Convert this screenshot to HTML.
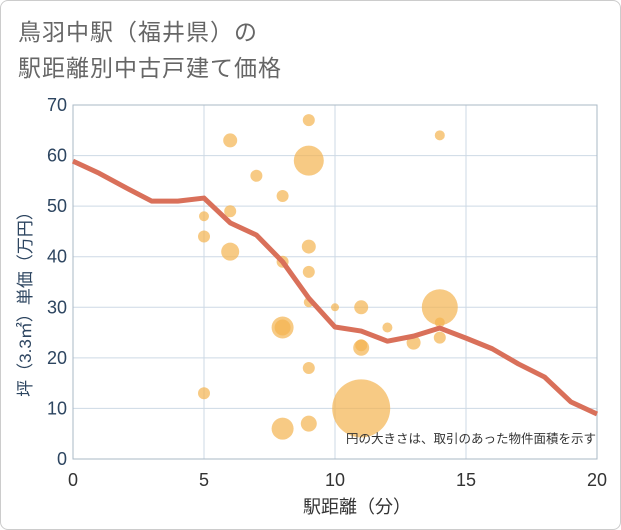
<!DOCTYPE html>
<html><head><meta charset="utf-8"><style>
body{margin:0;background:#fff;}
#wrap{position:relative;width:621px;height:530px;font-family:"Liberation Sans","Noto Sans CJK JP",sans-serif;}
#frame{position:absolute;left:0;top:0;width:619px;height:528px;border:1px solid #ccc;border-radius:8px;}
#title{position:absolute;left:18px;top:14px;font-size:23px;line-height:36px;color:#666;letter-spacing:1px;}
svg text{font-family:"Liberation Sans","Noto Sans CJK JP",sans-serif;}
</style></head><body>
<div id="wrap">
<div id="frame"></div>
<div id="title">鳥羽中駅（福井県）の<br>駅距離別中古戸建て価格</div>
<svg id="svg" width="621" height="530" style="position:absolute;left:0;top:0"></svg>
</div>
<script>
const xTicks=[0,5,10,15,20];
const yTicks=[0,10,20,30,40,50,60,70];
const lineX=[0,1,2,3,4,5,6,7,8,9,10,11,12,13,14,15,16,17,18,19,20];
const lineY=[58.9,56.5,53.7,51,51,51.6,46.7,44.3,39,31.8,26.1,25.3,23.3,24.3,25.9,23.9,21.8,18.8,16.2,11.3,8.9];
const bubX=[9,6,14,9,7,8,6,5,5,9,6,8,9,9,10,11,14,14,8,8,12,14,11,11,13,9,5,11,8,9];
const bubY=[67,63,64,59,56,52,49,48,44,42,41,39,37,31,30,30,30,27,26,26,26,24,22.5,22,23,18,13,10,6,7];
const bubR=[6,7,5,15,6,6,6,5,6,7,9,6,6,5,4,7,18,5,11,8,5,6,6,8,7,6,6,29,11,8];
const L=73,R=597,T=105,B=459;
const sx=v=>L+(v-0)/20*(R-L);
const sy=v=>B-(v-0)/70*(B-T);
const svg=document.getElementById('svg');
const NS='http://www.w3.org/2000/svg';
function mk(tag,attrs,parent){const e=document.createElementNS(NS,tag);for(const k in attrs)e.setAttribute(k,attrs[k]);(parent||svg).appendChild(e);return e;}
let e;
xTicks.forEach(t=>{
 e=mk('line',{x1:sx(t),x2:sx(t),y1:T,y2:B,stroke:'#cdd9e5','stroke-width':1});
 
 
 e=mk('text',{x:sx(t),y:B+27,'text-anchor':'middle','font-size':18,fill:'#333'});e.textContent=t;
 
 
});
yTicks.forEach(t=>{
 e=mk('line',{x1:L,x2:R,y1:sy(t),y2:sy(t),stroke:'#cdd9e5','stroke-width':1});
 
 
 e=mk('text',{x:L-6,y:sy(t)+6,'text-anchor':'end','font-size':18,fill:'#2d4560'});e.textContent=t;
 
 
});
e=mk('rect',{x:L,y:T,width:R-L,height:B-T,fill:'none',stroke:'#aab8c6','stroke-width':1});


bubX.forEach((x,i)=>{
 e=mk('circle',{cx:sx(x),cy:sy(bubY[i]),r:bubR[i],fill:'#f4b450','fill-opacity':0.7});
 
 
});
e=mk('polyline',{points:lineX.map((x,i)=>sx(x)+','+sy(lineY[i])).join(' '),fill:'none',stroke:'#d9705a','stroke-width':5,'stroke-linejoin':'round'});


e=mk('text',{x:596,y:443,'text-anchor':'end','font-size':12.5,fill:'#333'});e.textContent='円の大きさは、取引のあった物件面積を示す';


e=mk('text',{x:357,y:513,'text-anchor':'middle','font-size':18,fill:'#333'});e.textContent='駅距離（分）';


e=mk('text',{x:0,y:0,'text-anchor':'middle','font-size':17,fill:'#2d4560',transform:'translate(31,300) rotate(-90)'});e.textContent='坪（3.3㎡）単価（万円）';


</script>
</body></html>
